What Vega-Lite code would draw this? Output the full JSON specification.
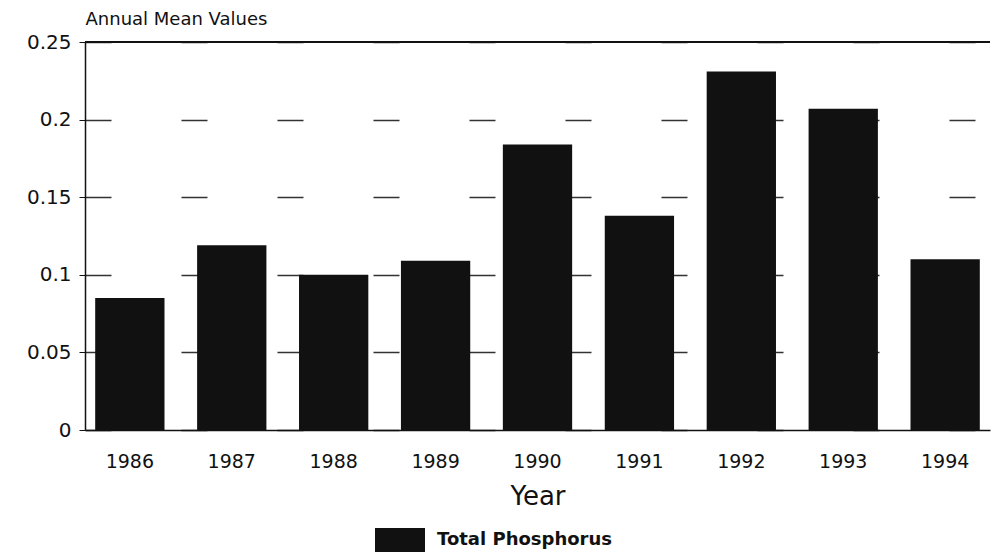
{
  "$schema": "https://vega.github.io/schema/vega-lite/v6.json",
  "autosize": {"type": "none"},
  "width": 905,
  "height": 388,
  "padding": {"left": 85, "top": 42, "right": 3, "bottom": 126},
  "background": "white",
  "config": {
    "font": "DejaVu Sans",
    "view": {"stroke": null},
    "axis": {"labelColor": "#111", "titleColor": "#111", "domainColor": "#111", "tickColor": "#111"}
  },
  "data": {
    "values": [
      {"year": "1986", "value": 0.085, "series": "Total Phosphorus"},
      {"year": "1987", "value": 0.119, "series": "Total Phosphorus"},
      {"year": "1988", "value": 0.100, "series": "Total Phosphorus"},
      {"year": "1989", "value": 0.109, "series": "Total Phosphorus"},
      {"year": "1990", "value": 0.184, "series": "Total Phosphorus"},
      {"year": "1991", "value": 0.138, "series": "Total Phosphorus"},
      {"year": "1992", "value": 0.231, "series": "Total Phosphorus"},
      {"year": "1993", "value": 0.207, "series": "Total Phosphorus"},
      {"year": "1994", "value": 0.110, "series": "Total Phosphorus"}
    ]
  },
  "layer": [
    {
      "mark": {"type": "bar", "opacity": 1},
      "encoding": {
        "x": {
          "field": "year", "type": "ordinal",
          "scale": {"paddingInner": 0.32, "paddingOuter": 0.1},
          "axis": {
            "title": "Year", "titleFontSize": 26, "titleFontWeight": "normal", "titlePadding": 12,
            "labelAngle": 0, "labelFontSize": 19, "labelPadding": 22, "ticks": false,
            "domainWidth": 1.5
          }
        },
        "y": {
          "field": "value", "type": "quantitative",
          "scale": {"domain": [0, 0.25], "nice": false},
          "axis": {
            "values": [0, 0.05, 0.1, 0.15, 0.2, 0.25],
            "labelExpr": "datum.value == 0 ? '0' : format(datum.value, '.2~f')",
            "labelFontSize": 20, "labelPadding": 8, "tickSize": 6,
            "grid": true, "gridDash": [26, 70], "gridColor": "#333", "gridWidth": 1.5,
            "domainWidth": 1.5,
            "title": "Annual Mean Values", "titleAngle": 0, "titleAlign": "left",
            "titleBaseline": "bottom", "titleX": 0, "titleY": -14,
            "titleFontSize": 18, "titleFontWeight": "normal"
          }
        },
        "color": {
          "field": "series", "type": "nominal",
          "scale": {"range": ["#111111"]},
          "legend": {
            "title": null, "orient": "none", "legendX": 305, "legendY": 488,
            "symbolType": "M-2.5,-1.2H2.5V1.2H-2.5Z", "symbolSize": 400,
            "symbolStrokeWidth": 0, "labelFontSize": 18, "labelFontWeight": "bold",
            "labelColor": "#111", "labelOffset": 27, "labelLimit": 400
          }
        }
      }
    },
    {
      "mark": {"type": "rule", "color": "#111", "strokeWidth": 2},
      "encoding": {"y": {"datum": 0.25}}
    }
  ]
}
